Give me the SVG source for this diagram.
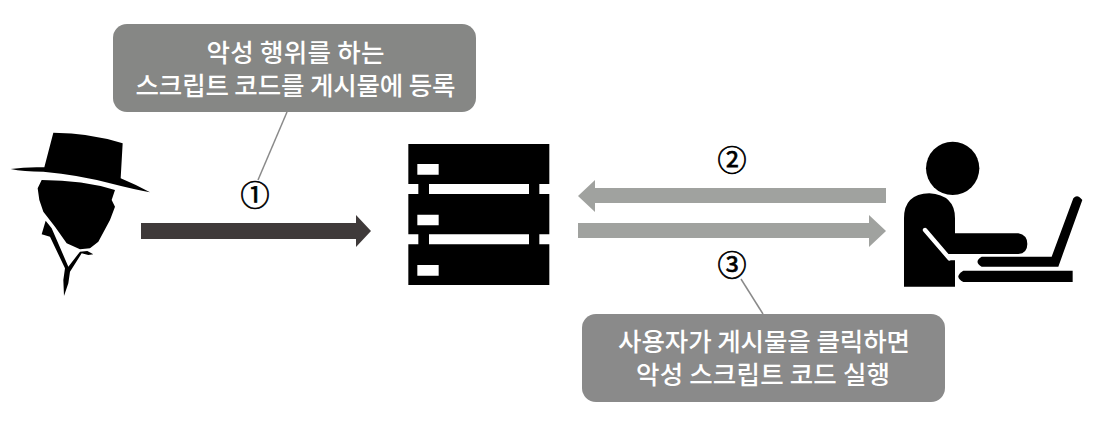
<svg xmlns="http://www.w3.org/2000/svg" width="1101" height="428" viewBox="0 0 1101 428">
<style>
text{font-family:"Noto Sans CJK KR","Noto Sans",sans-serif;text-anchor:middle}
.t{font-size:25.5px;fill:#fff;font-weight:500}
.n{font-size:29px;fill:#000;stroke:#000;stroke-width:.7}
.lead{stroke:#8a8a8a;stroke-width:1.5;fill:none}
</style>
<rect width="1101" height="428" fill="#fff"/>
<g id="connectors">
<path id="arrow1" fill="#3f3a3a" d="M141,223H356V215L371,231L356,247V239H141Z"/>
<path id="arrow2" fill="#a0a29f" d="M886,188H595V180L578,196L595,212V203H886Z"/>
<path id="arrow3" fill="#a0a29f" d="M578,223H869V215L886,231L869,247V238H578Z"/>
<path class="lead" d="M287,112L258,180"/>
<path class="lead" d="M741,279L763,314"/>
</g>
<g id="hacker">
<g transform="translate(0,120) scale(.33333)">
<path d="M32,147Q80,140 133,142L160,38Q270,38 368,70L362,175Q410,195 450,217Q400,208 330,190Q240,165 130,155Q70,155 32,147Z"/>
<path d="M125,180Q250,180 345,210L335,240L345,260L330,300L295,365L270,385L240,388L200,370L165,320L130,275L118,240L113,205Z"/>
<path d="M137,302L155,325L205,440L240,395L262,393L280,403L265,405L245,400L210,455L205,490L192,528L190,480L195,445L150,350L125,343Z"/>
</g>
</g>
<g id="server">
<g transform="translate(390,130) scale(.33333)">
<path d="M55,42H478V162H448V192H478V313H448V343H478V465H55V343H85V313H55V192H85V162H55Z"/>
<path fill="#fff" d="M117,162H417V192H117ZM117,313H417V343H117ZM82,102H146V134H82ZM82,254H146V286H82ZM82,405H146V437H82Z"/>
</g>
</g>
<g id="user">
<g transform="translate(890,130) scale(.33333)">
<circle cx="188" cy="115" r="80"/>
<path d="M42,470V265Q42,192 118,190Q195,195 195,265V310H385Q412,315 412,342Q412,370 385,372H195V470Z"/>
<path d="M105,300L178,385" fill="none" stroke="#fff" stroke-width="13" stroke-linecap="round"/>
<path d="M172,372H197V391H178Z" fill="#fff"/>
<path d="M275,380H485L550,205Q562,190 577,210L505,410H275Q250,395 275,380Z"/>
<path d="M220,422H548V456H220Q190,440 220,422Z"/>
</g>
</g>
<g id="callout1">
<rect x="113" y="24" width="363" height="88" rx="14" fill="#868785"/>
<text class="t" x="295.500" y="62" textLength="178">악성 행위를 하는</text>
<text class="t" x="295.500" y="95" textLength="320">스크립트 코드를 게시물에 등록</text>
</g>
<g id="callout3">
<rect x="582" y="314" width="363" height="88" rx="14" fill="#8a8a8a"/>
<text class="t" x="764" y="351" textLength="292">사용자가 게시물을 클릭하면</text>
<text class="t" x="763" y="384" textLength="254">악성 스크립트 코드 실행</text>
</g>
<g id="label1"><text class="n" x="255" y="206">①</text></g>
<g id="label2"><text class="n" x="732" y="171">②</text></g>
<g id="label3"><text class="n" x="732" y="276">③</text></g>
</svg>
